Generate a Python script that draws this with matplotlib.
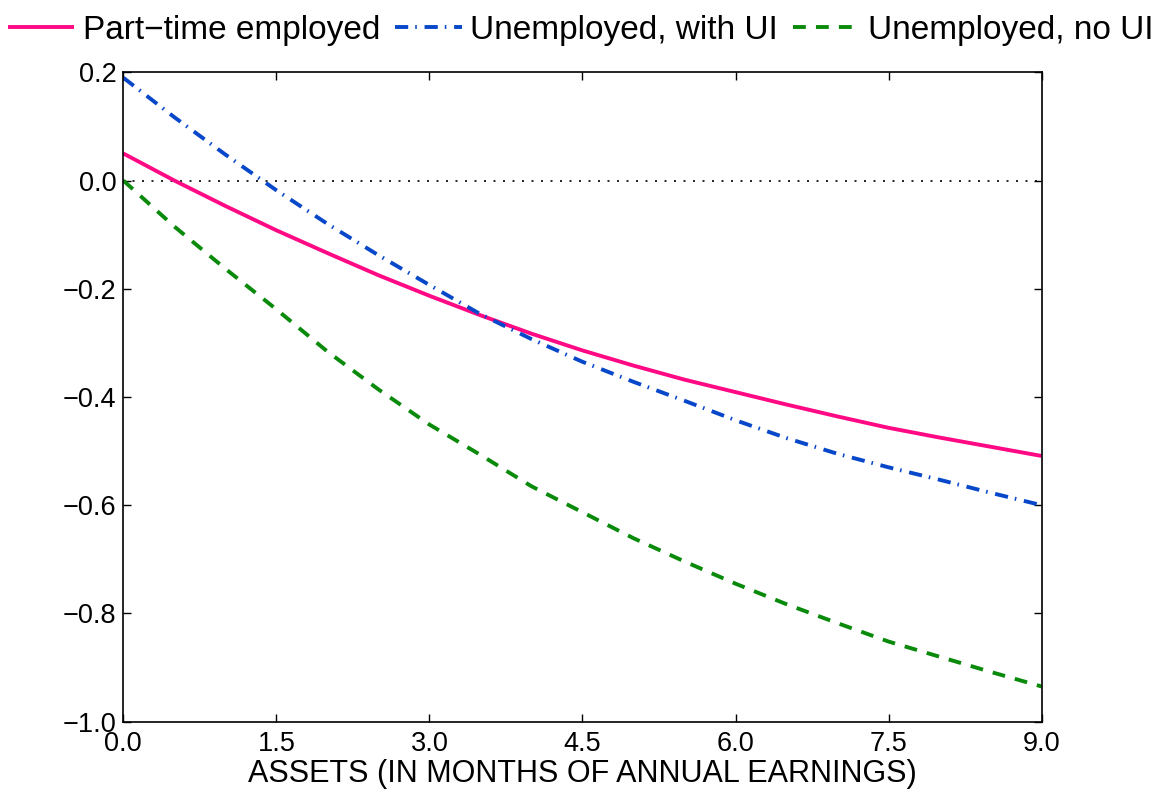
import numpy as np
import matplotlib
matplotlib.use("Agg")
import matplotlib.pyplot as plt

plt.rcParams["font.family"] = ["Liberation Sans", "DejaVu Sans"]

# values at half-month steps
assets = [0.0, 0.5, 1.0, 1.5, 2.0, 2.5, 3.0, 3.5, 4.0, 4.5,
          5.0, 5.5, 6.0, 6.5, 7.0, 7.5, 8.0, 8.5, 9.0]
part_time = [0.050, 0.000, -0.047, -0.092, -0.134, -0.175, -0.213, -0.249, -0.283, -0.314,
             -0.342, -0.368, -0.391, -0.414, -0.436, -0.457, -0.475, -0.492, -0.509]
unemp_ui = [0.190, 0.117, 0.048, -0.018, -0.080, -0.138, -0.193, -0.247, -0.293, -0.335,
            -0.372, -0.407, -0.443, -0.476, -0.505, -0.530, -0.553, -0.577, -0.600]
unemp_no_ui = [0.000, -0.085, -0.163, -0.238, -0.316, -0.386, -0.451, -0.507, -0.565, -0.613,
               -0.661, -0.704, -0.745, -0.783, -0.818, -0.852, -0.880, -0.908, -0.935]

labels = ["Part\u2212time employed", "Unemployed, with UI", "Unemployed, no UI"]
xticks = [0.0, 1.5, 3.0, 4.5, 6.0, 7.5, 9.0]
yticks = [-1.0, -0.8, -0.6, -0.4, -0.2, 0.0, 0.2]

fig = plt.figure(figsize=(11.61, 7.90), dpi=100)
ax = fig.add_axes([0.1062, 0.0865, 0.7910, 0.8220])

ax.plot([0, 9], [0, 0], color="black", lw=1.2, linestyle=(0, (1.2, 4.5)))
l1, = ax.plot(assets, part_time, color="#ff0a84", lw=2.8, solid_capstyle="butt")
l2, = ax.plot(assets, unemp_ui, color="#0747c9", lw=2.8, linestyle=(0, (3.4, 1.8, 0.4, 2.0)))
l3, = ax.plot(assets, unemp_no_ui, color="#0a8a0a", lw=2.8, linestyle=(0, (3.3, 2.6)))

ax.set_xlim(0, 9)
ax.set_ylim(-1.0, 0.2)
ax.set_xticks(xticks)
ax.set_yticks(yticks)
ax.set_xticklabels([f"{t:.1f}" for t in xticks])
ax.set_yticklabels([f"{t:.1f}".replace("-", "\u2212") for t in yticks])
ax.tick_params(direction="in", top=True, right=True, length=6, width=1.0, labelsize=19.5)
ax.tick_params(axis="x", pad=6.5)
ax.tick_params(axis="y", pad=5)
for s in ax.spines.values():
    s.set_linewidth(1.2)

ax.set_xlabel("ASSETS (IN MONTHS OF ANNUAL EARNINGS)", fontsize=22, labelpad=1.5)

fig.legend([l1, l2, l3], labels, loc="center", bbox_to_anchor=(0.5, 1 - 30 / 790),
           ncol=3, frameon=False, fontsize=24, handlelength=2.0, handletextpad=0.25,
           columnspacing=0.45, borderaxespad=0, borderpad=0)

fig.savefig("out.png", dpi=100)
